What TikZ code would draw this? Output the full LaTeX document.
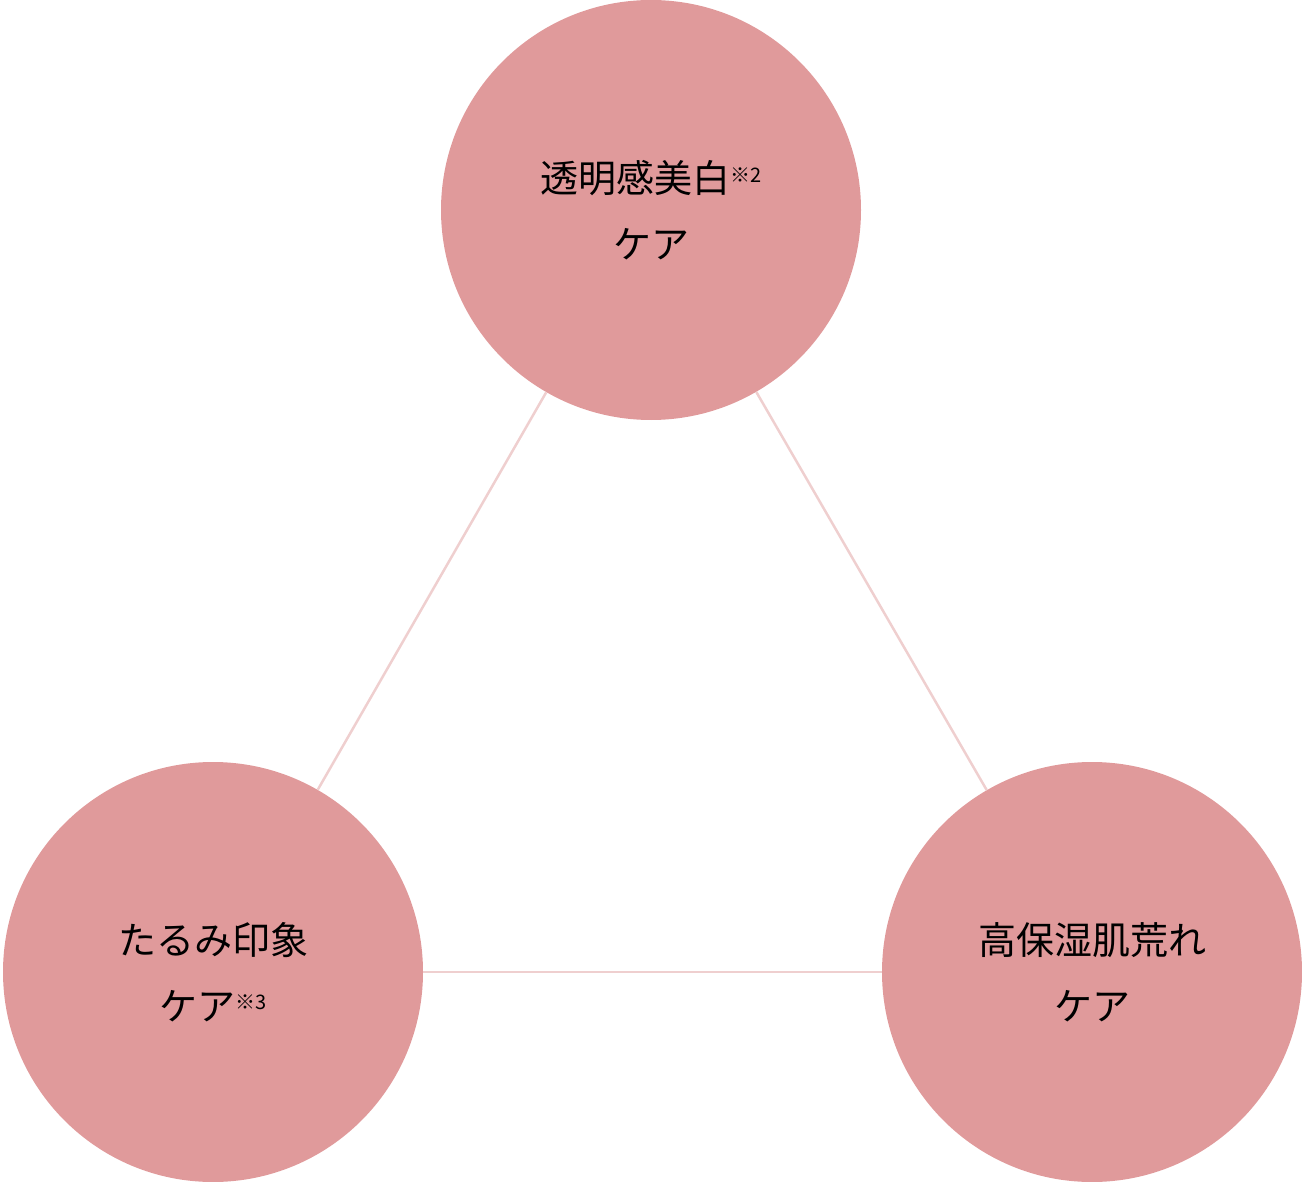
\documentclass[tikz,border=0pt]{standalone}
\usepackage{fontspec}
\newfontfamily\cjk{Noto Sans CJK JP}
\definecolor{circ}{HTML}{E09A9B}
\definecolor{lin}{HTML}{EFCFCF}
\begin{document}
\begin{tikzpicture}[x=1pt,y=-1pt,
  bub/.style={circle,fill=circ,minimum size=420pt,inner sep=0pt,align=center,font=\cjk\fontsize{38}{66}\selectfont,text=black},
  conn/.style={draw=lin,line width=2.5pt}]
\useasboundingbox (0,0) rectangle (1302,1182);
\node[bub] (t) at (651,210) {透明感美白\raisebox{0.5ex}{\fontsize{20}{20}\selectfont ※2}\\ケア};
\node[bub] (l) at (213,972) {たるみ印象\\ケア\raisebox{0.5ex}{\fontsize{20}{20}\selectfont ※3}};
\node[bub] (r) at (1092,972) {高保湿肌荒れ\\ケア};
\begin{scope}[on background layer/.try]
\end{scope}
\draw[conn] (t) -- (l);
\draw[conn] (t) -- (r);
\draw[conn] (l) -- (r);
\end{tikzpicture}
\end{document}
